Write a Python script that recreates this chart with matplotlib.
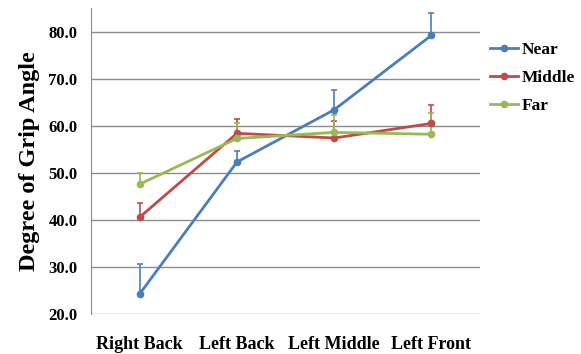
import numpy as np
import matplotlib.pyplot as plt
from matplotlib.lines import Line2D

# Data
positions = ["Right Back", "Left Back", "Left Middle", "Left Front"]
near = [24.3, 52.3, 63.4, 79.2]
near_err = [6.3, 2.4, 4.3, 4.7]
middle = [40.6, 58.4, 57.4, 60.5]
middle_err = [2.9, 3.1, 3.7, 4.0]
far = [47.6, 57.3, 58.6, 58.2]
far_err = [2.4, 3.2, 3.7, 4.5]
yticks = [20, 30, 40, 50, 60, 70, 80]

plt.rcParams['font.family'] = ['Liberation Serif', 'DejaVu Serif']

fig = plt.figure(figsize=(5.81, 3.54), dpi=100)
ax = fig.add_axes([0.157, 0.113, 0.669, 0.864])

x = np.arange(len(positions))
series = [("Near", near, near_err, '#4a7ebb'),
          ("Middle", middle, middle_err, '#be4b48'),
          ("Far", far, far_err, '#98b954')]

handles = []
for name, vals, err, col in series:
    ax.errorbar(x, vals, yerr=[np.zeros(len(err)), err], color=col, lw=2,
                marker='o', ms=4.5, capsize=2.5, elinewidth=1.2, capthick=1.2)
    handles.append(Line2D([], [], color=col, lw=2, marker='o', ms=4.5, label=name))

ax.set_xlim(-0.5, 3.5)
ax.set_ylim(20, 85)
ax.set_yticks(yticks)
ax.set_yticklabels([f"{v:.1f}" for v in yticks], fontsize=12, fontweight='bold')
ax.set_xticks(x)
ax.set_xticklabels(positions, fontsize=13, fontweight='bold')
ax.tick_params(axis='both', length=0)
ax.tick_params(axis='x', pad=16)
ax.tick_params(axis='y', pad=10)
ax.yaxis.grid(True, color='#8c8c8c', lw=1)
ax.set_axisbelow(True)
for s in ['top', 'right', 'bottom']:
    ax.spines[s].set_visible(False)
ax.spines['left'].set_color('#8c8c8c')

ax.set_ylabel("Degree of Grip Angle", fontsize=17.5, fontweight='bold', labelpad=6)

ax.legend(handles=handles, loc='upper left', bbox_to_anchor=(0.995, 0.93), frameon=False,
          prop={'size': 12.5, 'weight': 'bold'}, handlelength=1.6,
          handletextpad=0.2, labelspacing=0.7, borderaxespad=0.3)

fig.savefig("out.png", dpi=100)
